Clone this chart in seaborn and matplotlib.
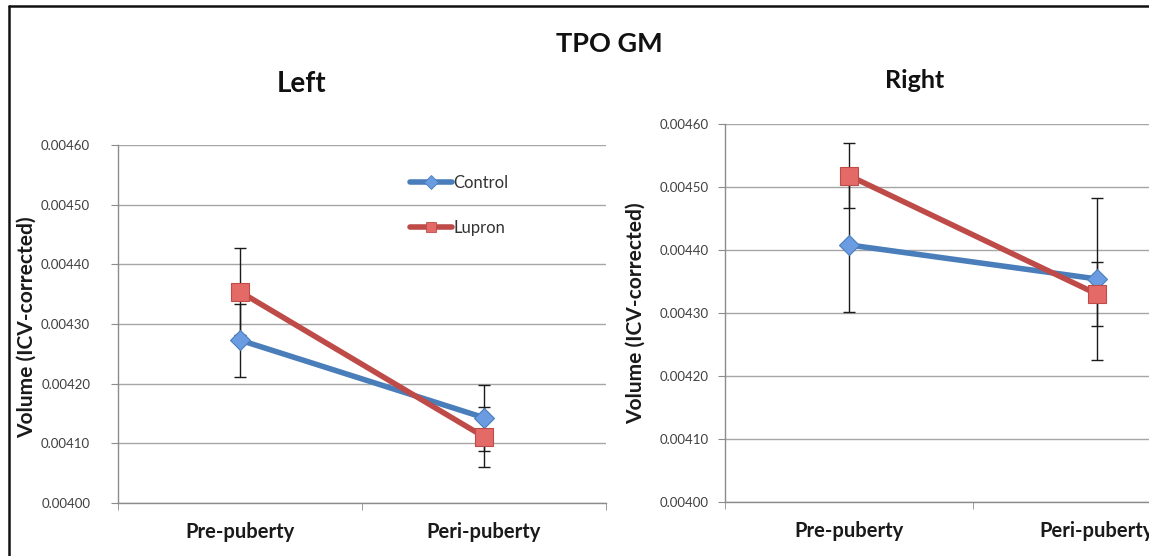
import matplotlib
matplotlib.use("Agg")
import matplotlib.pyplot as plt
from matplotlib.lines import Line2D
from matplotlib.ticker import FixedLocator, FormatStrFormatter
import numpy as np
import pandas as pd
import seaborn as sns

# values
phases = ["Pre-puberty", "Peri-puberty"]
groups = ["Control", "Lupron"]

left_control = [0.004273, 0.004143]
left_control_err = [0.000061, 0.000055]
left_lupron = [0.004354, 0.004111]
left_lupron_err = [0.000073, 0.000050]

right_control = [0.004408, 0.004354]
right_control_err = [0.000107, 0.000128]
right_lupron = [0.004518, 0.004330]
right_lupron_err = [0.000052, 0.000051]

y_ticks = [0.00400, 0.00410, 0.00420, 0.00430, 0.00440, 0.00450, 0.00460]

line_colors = {"Control": "#4A7EBB", "Lupron": "#BE4B48"}
face_colors = {"Control": "#6B9BE0", "Lupron": "#E46A68"}
marker_of = {"Control": "D", "Lupron": "s"}
marker_size = {"Control": 10, "Lupron": 12.5}

sns.set_style("white")
plt.rcParams["font.family"] = ["Lato", "DejaVu Sans"]

W, H = 1149, 556
fig = plt.figure(figsize=(W / 100, H / 100), dpi=100)
ax_l = fig.add_axes([0.1027, 0.0953, 0.4247, 0.6439])
ax_r = fig.add_axes([0.6310, 0.0971, 0.4317, 0.6799])


def make_df(control, lupron):
    return pd.DataFrame({
        "phase": phases * 2,
        "volume": list(control) + list(lupron),
        "group": [groups[0]] * 2 + [groups[1]] * 2,
    })


def draw_panel(ax, control, control_err, lupron, lupron_err, label_pad):
    df = make_df(control, lupron)
    sns.pointplot(data=df, x="phase", y="volume", hue="group",
                  hue_order=groups, palette=line_colors,
                  markers=["D", "s"], linestyles=["-", "-"],
                  errorbar=None, legend=False, ax=ax,
                  linewidth=4, markersize=11)
    for line, g in zip(ax.lines, groups):
        line.set_zorder(3 + groups.index(g))
        line.set_markerfacecolor(face_colors[g])
        line.set_markeredgecolor(line_colors[g])
        line.set_markersize(marker_size[g])
        line.set_markeredgewidth(0.8)
    xs = np.arange(len(phases))
    for vals, errs in [(control, control_err), (lupron, lupron_err)]:
        ax.errorbar(xs, vals, yerr=errs, fmt="none", ecolor="#1a1a1a",
                    elinewidth=1.0, capsize=4, capthick=1.0, zorder=2)

    ax.set_xlim(-0.5, 1.5)
    ax.set_ylim(0.00400, 0.00460)
    ax.yaxis.set_major_locator(FixedLocator(y_ticks))
    ax.yaxis.set_major_formatter(FormatStrFormatter("%.5f"))
    ax.grid(axis="y", color="#a6a6a6", linewidth=1.0)
    ax.set_axisbelow(True)
    for side in ["top", "right"]:
        ax.spines[side].set_visible(False)
    for side in ["left", "bottom"]:
        ax.spines[side].set_color("#8c8c8c")
        ax.spines[side].set_linewidth(1.0)

    ax.set_xticks([0, 1])
    ax.set_xticklabels(phases, fontsize=14.5, fontweight="bold", color="#1a1a1a")
    ax.xaxis.set_minor_locator(FixedLocator([-0.5, 0.5, 1.5]))
    ax.tick_params(axis="x", which="major", length=0, pad=14)
    ax.tick_params(axis="x", which="minor", length=5, color="#8c8c8c",
                   direction="out", bottom=True)
    ax.tick_params(axis="y", length=5, color="#8c8c8c", direction="out",
                   left=True, labelsize=9.5, labelcolor="#404040", pad=label_pad)
    ax.set_xlabel("")
    ax.set_ylabel("Volume (ICV-corrected)", fontsize=15, fontweight="bold",
                  color="#1a1a1a")


draw_panel(ax_l, left_control, left_control_err, left_lupron, left_lupron_err, 15)
draw_panel(ax_r, right_control, right_control_err, right_lupron, right_lupron_err, 7)
ax_l.yaxis.set_label_coords(-0.166, 0.49)
ax_r.yaxis.set_label_coords(-0.159, 0.5)

# legend on the left panel only
handles = [
    Line2D([], [], color=line_colors[g], linewidth=4, marker=marker_of[g],
           markersize=7, markerfacecolor=face_colors[g],
           markeredgecolor=line_colors[g], markeredgewidth=0.6)
    for g in groups
]
leg = ax_l.legend(handles, groups, loc="upper left",
                  bbox_to_anchor=(410 / W, 1 - 175 / H),
                  bbox_transform=fig.transFigure, frameon=False,
                  fontsize=12, handlelength=2.5, handletextpad=0.1,
                  labelspacing=1.75, borderaxespad=0, borderpad=0)
for t in leg.get_texts():
    t.set_color("#333333")

fig.text(609 / W, 1 - 44 / H, "TPO GM", ha="center", va="center",
         fontsize=19.5, fontweight="bold", color="#111111")
fig.text(302 / W, 1 - 84 / H, "Left", ha="center", va="center",
         fontsize=20, fontweight="bold", color="#111111")
fig.text(915 / W, 1 - 80 / H, "Right", ha="center", va="center",
         fontsize=18, fontweight="bold", color="#111111")

# frame around the chart area: only its top and left edges fall inside the image
fig.add_artist(Line2D([9 / W, 1.0], [1 - 6 / H, 1 - 6 / H],
                      transform=fig.transFigure, color="#111111", linewidth=1.8))
fig.add_artist(Line2D([9 / W, 9 / W], [0.0, 1 - 6 / H],
                      transform=fig.transFigure, color="#111111", linewidth=1.8))

fig.savefig("out.png", dpi=100)
